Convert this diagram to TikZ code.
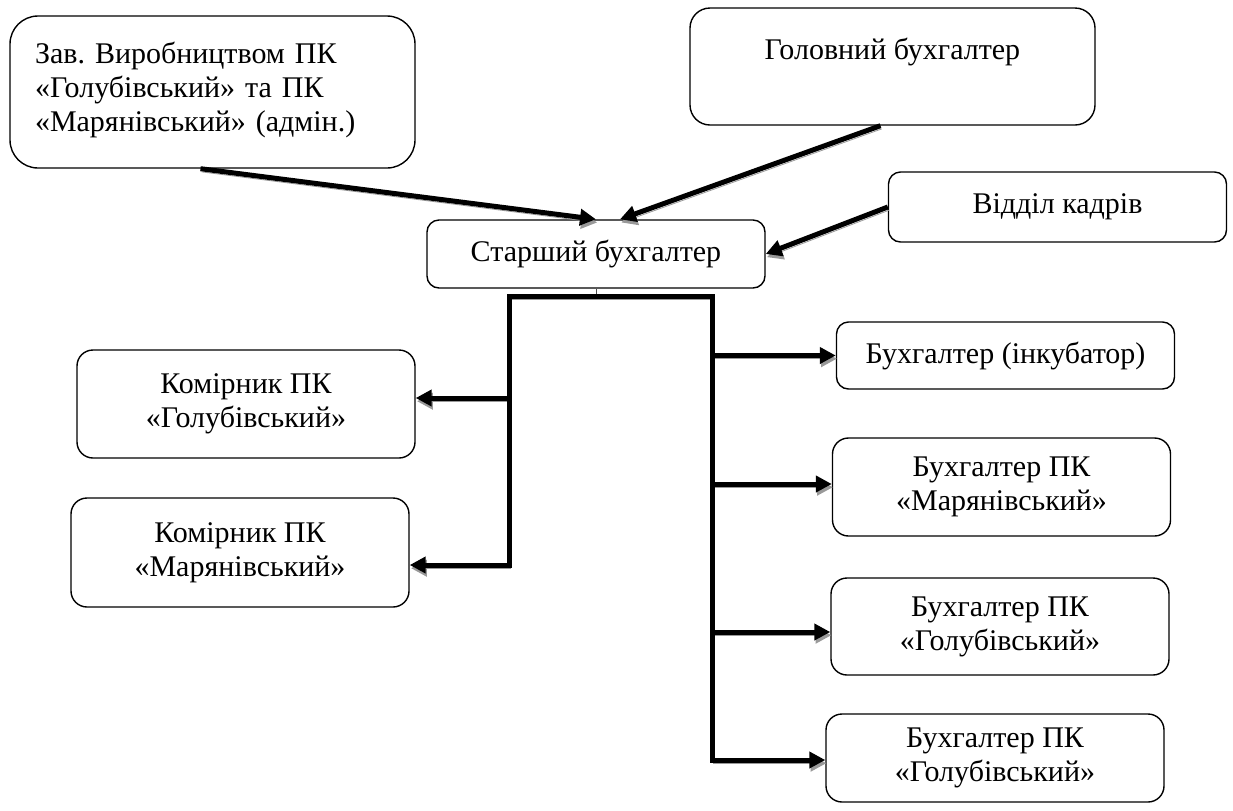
\documentclass[tikz,border=0pt]{standalone}
\usepackage{fontspec}
\setmainfont{Liberation Serif}
\frenchspacing
\usetikzlibrary{arrows.meta}
\tikzset{
  blok/.style={draw, line width=0.7pt, rounded corners=6pt, align=center,
    inner sep=0pt, minimum width=169pt, font=\fontsize{15pt}{17pt}\selectfont},
  zv/.style={line width=2.5pt,
    preaction={draw=gray!80, transform canvas={shift={(0.6pt,-1.6pt)}}}},
}
\newcommand{\strilka}[2]{\draw[zv,-{Triangle[length=8pt,width=8pt]}] (#1) -- (#2);}

\begin{document}
\begin{tikzpicture}[x=0.5pt,y=-0.5pt]
  \useasboundingbox (0,0) rectangle (1233,810);

  % верхній рівень
  \node[blok, minimum width=202.5pt, text width=177.5pt, align=left,
    text height=23.5pt, text depth=52.5pt, rounded corners=14pt] (zav) at (212.5,92)
    {Зав. Виробництвом ПК\\«Голубівський» та ПК\\«Марянівський» (адмін.)};
  \node[blok, minimum width=202.5pt, text height=25.5pt, text depth=33pt,
    rounded corners=10pt] (gol) at (892.5,66.5) {Головний бухгалтер};
  \node[blok, minimum height=35pt] (kadry) at (1057.5,207) {Відділ кадрів};
  \node[blok, minimum height=34pt] (st) at (596,254) {Старший бухгалтер};

  % підлеглі
  \node[blok, minimum height=54pt, rounded corners=8pt] (kom1) at (246,404) {Комірник ПК\\«Голубівський»};
  \node[blok, minimum height=54.5pt, rounded corners=8pt] (kom2) at (240,552.5) {Комірник ПК\\«Марянівський»};
  \node[blok, minimum height=33.5pt] (buh1) at (1005.5,355.5) {Бухгалтер (інкубатор)};
  \node[blok, minimum height=49pt, rounded corners=8pt] (buh2) at (1001.5,487) {Бухгалтер ПК\\«Марянівський»};
  \node[blok, minimum height=48.5pt, rounded corners=8pt] (buh3) at (1000,626.5) {Бухгалтер ПК\\«Голубівський»};
  \node[blok, minimum height=44pt, rounded corners=8pt] (buh4) at (995,758) {Бухгалтер ПК\\«Голубівський»};

  % точки для стрілок
  \coordinate (vL) at (509,296);
  \coordinate (vR) at (712,296);
  \coordinate (k1) at ([yshift=3pt]kom1.east);
  \coordinate (k2) at ([yshift=-6.25pt]kom2.east);
  \coordinate (b1) at (buh1.west);
  \coordinate (b2) at ([yshift=1.5pt]buh2.west);
  \coordinate (b3) at ([yshift=-2.75pt]buh3.west);
  \coordinate (b4) at ([yshift=-1pt]buh4.west);

  % стрілки до старшого бухгалтера
  \strilka{[xshift=-6pt]zav.south}{st.north}
  \strilka{[xshift=-6pt]gol.south}{[xshift=12pt]st.north}
  \strilka{kadry.west}{st.east}

  % розгалуження
  \strilka{vL |- k1}{k1}
  \strilka{vR |- b1}{b1}
  \strilka{vR |- b2}{b2}
  \strilka{vR |- b3}{b3}
  \draw[line width=0.4pt,gray!60!black] (st.south) -- (st.south |- vL);
  \draw[zv,{Triangle[length=8pt,width=8pt]}-{Triangle[length=8pt,width=8pt]}]
    (k2) -- (vL |- k2) -- (vL) -- (vR) -- (vR |- b4) -- (b4);
\end{tikzpicture}
\end{document}
